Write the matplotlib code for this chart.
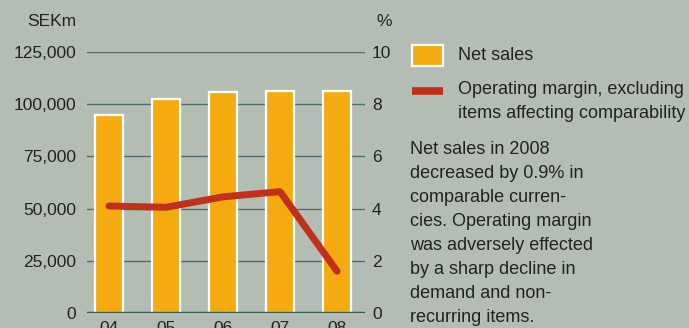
import matplotlib.pyplot as plt
import numpy as np
from matplotlib.patches import Rectangle
from matplotlib.lines import Line2D

plt.rcParams['font.family'] = ['Liberation Sans', 'DejaVu Sans']

# Net sales (SEKm) and operating margin (%) by year
years = ['04', '05', '06', '07', '08']
net_sales = [95000, 102500, 106000, 106500, 106300]
op_margin = [4.1, 4.05, 4.45, 4.65, 1.6]

sales_ticks = [0, 25000, 50000, 75000, 100000, 125000]
margin_ticks = [0, 2, 4, 6, 8, 10]

note = ['Net sales in 2008',
        'decreased by 0.9% in',
        'comparable curren-',
        'cies. Operating margin',
        'was adversely effected',
        'by a sharp decline in',
        'demand and non-',
        'recurring items.']

bg = '#b4bdb4'
orange = '#f5ab10'
red = '#c0301a'
grid = '#4f6d6d'
txt = '#222222'
W, H = 689, 328

fig = plt.figure(figsize=(W / 100, H / 100), dpi=100)
fig.patch.set_facecolor(bg)

ax = fig.add_axes([87 / W, 15 / H, 278 / W, 261 / H])
ax.set_facecolor('none')
x = np.arange(len(years))
ax.bar(x, net_sales, width=0.5, color=orange, edgecolor='white',
       linewidth=1.6, zorder=2)
ax.set_xlim(-0.386, 4.49)
ax.set_ylim(0, 125000)
ax.set_yticks(sales_ticks)
ax.set_yticklabels([f'{v:,}' for v in sales_ticks])
ax.set_xticks(x)
ax.set_xticklabels(years)
ax.grid(axis='y', color=grid, lw=1, zorder=1)
ax.set_axisbelow(True)
for s in ax.spines.values():
    s.set_visible(False)
ax.axhline(0, color='#3a5858', lw=2.5, zorder=3)
ax.tick_params(axis='y', length=0, pad=8, labelsize=12.5, labelcolor=txt)
ax.tick_params(axis='x', length=0, pad=5.5, labelsize=12.5, labelcolor=txt)

ax2 = ax.twinx()
ax2.set_ylim(0, 10)
ax2.set_yticks(margin_ticks)
for s in ax2.spines.values():
    s.set_visible(False)
ax2.tick_params(axis='y', length=0, pad=5, labelsize=12.5, labelcolor=txt)
ax2.plot(x, op_margin, color=red, lw=5, solid_capstyle='round',
         solid_joinstyle='round', zorder=4)

def fy(py):
    return 1 - py / H

fig.text(76 / W, fy(22), 'SEKm', ha='right', va='center', fontsize=12.5, color=txt)
fig.text(376 / W, fy(22), '%', ha='left', va='center', fontsize=12.5, color=txt)

# legend
fig.add_artist(Rectangle((412 / W, fy(66)), 31 / W, 21 / H, transform=fig.transFigure,
                         facecolor=orange, edgecolor='white', lw=1.6))
fig.add_artist(Line2D([412 / W, 443 / W], [fy(90.5), fy(90.5)], transform=fig.transFigure,
                      color=red, lw=5.5, solid_capstyle='butt'))
fig.text(458 / W, fy(55), 'Net sales', ha='left', va='center', fontsize=13, color=txt)
fig.text(458 / W, fy(90), 'Operating margin, excluding', ha='left', va='center',
         fontsize=13, color=txt)
fig.text(458 / W, fy(113), 'items affecting comparability', ha='left', va='center',
         fontsize=13, color=txt)

for i, line in enumerate(note):
    fig.text(410 / W, fy(150 + 24 * i), line, ha='left', va='center',
             fontsize=13, color=txt)

fig.savefig('out.png', dpi=100, facecolor=bg)
